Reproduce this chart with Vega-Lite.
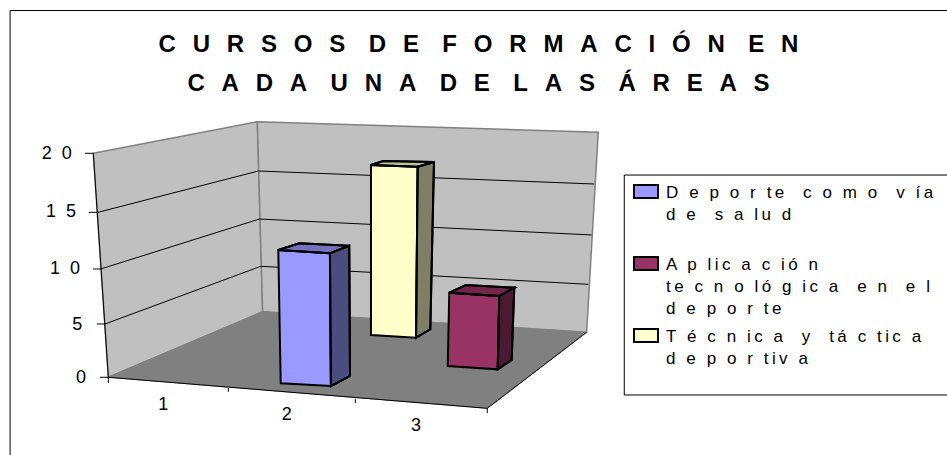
{
"$schema":"https://vega.github.io/schema/vega-lite/v6.json",
"width":947,"height":455,"padding":0,"autosize":{"type":"none"},
"background":"white",
"config":{"view":{"stroke":null},"font":"Liberation Sans"},
"title":{"text":["C\u2002\u2009U\u2002\u2009R\u2002\u2009S\u2002\u2009O\u2002\u2009S\u2002\u2009\u00a0D\u2002\u2009E\u2002\u2009\u00a0F\u2002\u2009O\u2002\u2009R\u2002\u2009M\u2002\u2009A\u2002\u2009C\u2002\u2009I\u2002\u2009Ó\u2002\u2009N\u2002\u2009\u00a0E\u2002\u2009N","C\u2002\u2009A\u2002\u2009D\u2002\u2009A\u2002\u2009\u00a0U\u2002\u2009N\u2002\u2009A\u2002\u2009\u00a0D\u2002\u2009E\u2002\u2009\u00a0L\u2002\u2009A\u2002\u2009S\u2002\u2009\u00a0Á\u2002\u2009R\u2002\u2009E\u2002\u2009A\u2002\u2009S"],"font":"Liberation Sans","fontSize":24,"fontWeight":"bold","color":"black","anchor":"middle","frame":"group","lineHeight":39,"baseline":"top","offset":-96,"dx":5},
"datasets":{
"planos":[
{"plano":"pared izquierda","orden":1,"x":0.739,"y":20},{"plano":"pared izquierda","orden":2,"x":2.038,"y":22.82},{"plano":"pared izquierda","orden":3,"x":2.08,"y":5.86},{"plano":"pared izquierda","orden":4,"x":0.858,"y":0},
{"plano":"pared fondo","orden":1,"x":2.038,"y":22.82},{"plano":"pared fondo","orden":2,"x":4.738,"y":21.88},{"plano":"pared fondo","orden":3,"x":4.646,"y":4.02},{"plano":"pared fondo","orden":4,"x":2.08,"y":5.86},
{"plano":"suelo","orden":1,"x":0.858,"y":0},{"plano":"suelo","orden":2,"x":2.08,"y":5.86},{"plano":"suelo","orden":3,"x":4.646,"y":4.02},{"plano":"suelo","orden":4,"x":3.859,"y":-2.77}
],
"lineas":[
{"linea":"g15","orden":1,"x":0.776,"y":14.73},{"linea":"g15","orden":2,"x":2.046,"y":18.42},{"linea":"g15","orden":3,"x":4.704,"y":17.26},
{"linea":"g10","orden":1,"x":0.797,"y":9.67},{"linea":"g10","orden":2,"x":2.054,"y":14.13},{"linea":"g10","orden":3,"x":4.686,"y":12.71},
{"linea":"g5","orden":1,"x":0.832,"y":4.76},{"linea":"g5","orden":2,"x":2.065,"y":9.91},{"linea":"g5","orden":3,"x":4.659,"y":8.3},
{"linea":"eje y","orden":1,"x":0.739,"y":20},{"linea":"eje y","orden":2,"x":0.858,"y":0},
{"linea":"eje x","orden":1,"x":0.858,"y":0},{"linea":"eje x","orden":2,"x":3.859,"y":-2.77},{"linea":"eje x","orden":3,"x":4.646,"y":4.02},
{"linea":"t20","orden":1,"x":0.673,"y":20},{"linea":"t20","orden":2,"x":0.739,"y":20},
{"linea":"t15","orden":1,"x":0.705,"y":14.73},{"linea":"t15","orden":2,"x":0.776,"y":14.73},
{"linea":"t10","orden":1,"x":0.737,"y":9.67},{"linea":"t10","orden":2,"x":0.797,"y":9.67},
{"linea":"t5","orden":1,"x":0.768,"y":4.76},{"linea":"t5","orden":2,"x":0.832,"y":4.76},
{"linea":"t0","orden":1,"x":0.792,"y":0},{"linea":"t0","orden":2,"x":0.858,"y":0},
{"linea":"x0","orden":1,"x":0.858,"y":0},{"linea":"x0","orden":2,"x":0.858,"y":-0.5},
{"linea":"x1","orden":1,"x":1.808,"y":-0.96},{"linea":"x1","orden":2,"x":1.808,"y":-1.3},
{"linea":"x2","orden":1,"x":2.814,"y":-1.95},{"linea":"x2","orden":2,"x":2.814,"y":-2.3},
{"linea":"x3","orden":1,"x":3.859,"y":-2.77},{"linea":"x3","orden":2,"x":3.859,"y":-3.2},
{"linea":"marco","orden":1,"x":0.08,"y":-6.94},{"linea":"marco","orden":2,"x":0.08,"y":32.75},{"linea":"marco","orden":3,"x":7.5,"y":32.75},
{"linea":"caja","orden":1,"x":7.5,"y":-1.58},{"linea":"caja","orden":2,"x":4.944,"y":-1.58},{"linea":"caja","orden":3,"x":4.944,"y":18.06},{"linea":"caja","orden":4,"x":7.5,"y":18.06}
],
"caras":[
{"serie":"Deporte como vía de salud","cara":"frente","orden":1,"x":2.204,"y":11.37},{"serie":"Deporte como vía de salud","cara":"frente","orden":2,"x":2.613,"y":11.07},{"serie":"Deporte como vía de salud","cara":"frente","orden":3,"x":2.621,"y":-0.78},{"serie":"Deporte como vía de salud","cara":"frente","orden":4,"x":2.223,"y":-0.54},
{"serie":"Deporte como vía de salud","cara":"superior","orden":1,"x":2.204,"y":11.37},{"serie":"Deporte como vía de salud","cara":"superior","orden":2,"x":2.37,"y":11.96},{"serie":"Deporte como vía de salud","cara":"superior","orden":3,"x":2.766,"y":11.75},{"serie":"Deporte como vía de salud","cara":"superior","orden":4,"x":2.613,"y":11.07},
{"serie":"Deporte como vía de salud","cara":"lateral","orden":1,"x":2.613,"y":11.07},{"serie":"Deporte como vía de salud","cara":"lateral","orden":2,"x":2.766,"y":11.75},{"serie":"Deporte como vía de salud","cara":"lateral","orden":3,"x":2.772,"y":0.12},{"serie":"Deporte como vía de salud","cara":"lateral","orden":4,"x":2.621,"y":-0.78},
{"serie":"Técnica y táctica deportiva","cara":"frente","orden":1,"x":2.938,"y":18.96},{"serie":"Técnica y táctica deportiva","cara":"frente","orden":2,"x":3.308,"y":18.8},{"serie":"Técnica y táctica deportiva","cara":"frente","orden":3,"x":3.295,"y":3.54},{"serie":"Técnica y táctica deportiva","cara":"frente","orden":4,"x":2.938,"y":3.78},
{"serie":"Técnica y táctica deportiva","cara":"superior","orden":1,"x":2.938,"y":18.96},{"serie":"Técnica y táctica deportiva","cara":"superior","orden":2,"x":3.036,"y":19.31},{"serie":"Técnica y táctica deportiva","cara":"superior","orden":3,"x":3.437,"y":19.22},{"serie":"Técnica y táctica deportiva","cara":"superior","orden":4,"x":3.308,"y":18.8},
{"serie":"Técnica y táctica deportiva","cara":"lateral","orden":1,"x":3.308,"y":18.8},{"serie":"Técnica y táctica deportiva","cara":"lateral","orden":2,"x":3.437,"y":19.22},{"serie":"Técnica y táctica deportiva","cara":"lateral","orden":3,"x":3.408,"y":4.29},{"serie":"Técnica y táctica deportiva","cara":"lateral","orden":4,"x":3.295,"y":3.54},
{"serie":"Aplicación tecnológica en el deporte","cara":"frente","orden":1,"x":3.558,"y":7.55},{"serie":"Aplicación tecnológica en el deporte","cara":"frente","orden":2,"x":3.954,"y":7.26},{"serie":"Aplicación tecnológica en el deporte","cara":"frente","orden":3,"x":3.942,"y":0.71},{"serie":"Aplicación tecnológica en el deporte","cara":"frente","orden":4,"x":3.546,"y":1.01},
{"serie":"Aplicación tecnológica en el deporte","cara":"superior","orden":1,"x":3.558,"y":7.55},{"serie":"Aplicación tecnológica en el deporte","cara":"superior","orden":2,"x":3.69,"y":8.24},{"serie":"Aplicación tecnológica en el deporte","cara":"superior","orden":3,"x":4.073,"y":8},{"serie":"Aplicación tecnológica en el deporte","cara":"superior","orden":4,"x":3.954,"y":7.26},
{"serie":"Aplicación tecnológica en el deporte","cara":"lateral","orden":1,"x":3.954,"y":7.26},{"serie":"Aplicación tecnológica en el deporte","cara":"lateral","orden":2,"x":4.073,"y":8},{"serie":"Aplicación tecnológica en el deporte","cara":"lateral","orden":3,"x":4.052,"y":1.54},{"serie":"Aplicación tecnológica en el deporte","cara":"lateral","orden":4,"x":3.942,"y":0.71}
],
"etiquetas":[
{"texto":"2 \u00a00","x":0.568,"y":19.94,"eje":"y"},{"texto":"1 \u00a05","x":0.602,"y":14.76,"eje":"y"},{"texto":"1 \u00a00","x":0.634,"y":9.67,"eje":"y"},{"texto":"5","x":0.652,"y":4.67,"eje":"y"},{"texto":"0","x":0.681,"y":-0.06,"eje":"y"},
{"texto":"1","x":1.293,"y":-2.47,"eje":"x"},{"texto":"2","x":2.271,"y":-3.37,"eje":"x"},{"texto":"3","x":3.294,"y":-4.35,"eje":"x"}
]
},
"encoding":{
"x":{"field":"x","type":"quantitative","scale":{"domain":[0,7.5],"nice":false,"zero":false},"axis":null},
"y":{"field":"y","type":"quantitative","scale":{"domain":[-6.94,33.69],"nice":false,"zero":false},"axis":null}
},
"layer":[
{"data":{"name":"planos"},"transform":[{"filter":"datum.plano!='suelo'"}],"mark":{"type":"line","interpolate":"linear-closed","fill":"#C0C0C0","stroke":"#808080","strokeWidth":1.5},"encoding":{"detail":{"field":"plano"},"order":{"field":"orden"}}},
{"data":{"name":"planos"},"transform":[{"filter":"datum.plano=='suelo'"}],"mark":{"type":"line","interpolate":"linear-closed","fill":"#808080","stroke":"#808080","strokeWidth":1},"encoding":{"detail":{"field":"plano"},"order":{"field":"orden"}}},
{"data":{"name":"lineas"},"mark":{"type":"line","stroke":"black","strokeWidth":1},"encoding":{"detail":{"field":"linea"},"order":{"field":"orden"}}},
{"data":{"name":"caras"},"mark":{"type":"line","interpolate":"linear-closed","stroke":"black","strokeWidth":2},"encoding":{"detail":[{"field":"serie"},{"field":"cara"}],"order":{"field":"orden"},
"fill":{"field":"serie","type":"nominal","scale":{"domain":["Deporte como vía de salud","Aplicación tecnológica en el deporte","Técnica y táctica deportiva"],"range":["#9999FF","#993366","#FFFFCC"]},
"legend":{"orient":"none","legendX":624,"legendY":175,"title":null,"padding":9,"symbolType":"M-1,-1H1V0.08H-1Z","symbolSize":576,"symbolStrokeColor":"black","symbolStrokeWidth":2,"symbolBaseline":"top","labelBaseline":"top","labelFont":"Liberation Sans","labelFontSize":17,"labelColor":"black","labelOffset":7,"labelLimit":400,"rowPadding":8,"encoding":{"labels":{"lineHeight":{"value":22},"dy":{"value":-12}}},
"labelExpr":"datum.value=='Deporte como vía de salud'?['D \u00a0\u200ae \u00a0\u200ap \u00a0\u200ao \u00a0\u200ar \u00a0\u200at\u2009e \u00a0 \u00a0c \u00a0\u200ao \u00a0\u200am \u00a0\u200ao \u00a0 \u00a0v \u00a0\u200aí\u2009a','d \u00a0\u200ae \u00a0 \u00a0s \u00a0\u200aa \u00a0\u200al\u2009u \u00a0\u200ad','']:datum.value=='Aplicación tecnológica en el deporte'?['A \u00a0\u200ap \u00a0\u200al\u2009i\u2009c \u00a0\u200aa \u00a0\u200ac \u00a0\u200ai\u2009ó \u00a0\u200an','t\u2009e \u00a0\u200ac \u00a0\u200an \u00a0\u200ao \u00a0\u200al\u2009ó \u00a0\u200ag \u00a0\u200ai\u2009c \u00a0\u200aa \u00a0 \u00a0e \u00a0\u200an \u00a0 \u00a0e \u00a0\u200al','d \u00a0\u200ae \u00a0\u200ap \u00a0\u200ao \u00a0\u200ar \u00a0\u200at\u2009e']:['T \u00a0\u200aé \u00a0\u200ac \u00a0\u200an \u00a0\u200ai\u2009c \u00a0\u200aa \u00a0 \u00a0y \u00a0 \u00a0t\u2009á \u00a0\u200ac \u00a0\u200at\u2009i\u2009c \u00a0\u200aa','d \u00a0\u200ae \u00a0\u200ap \u00a0\u200ao \u00a0\u200ar \u00a0\u200at\u2009i\u2009v \u00a0\u200aa']"}}}},
{"data":{"name":"caras"},"transform":[{"filter":"datum.cara!='frente'"}],"mark":{"type":"line","interpolate":"linear-closed","fill":"black","stroke":"black","strokeWidth":2},"encoding":{"detail":[{"field":"serie"},{"field":"cara"}],"order":{"field":"orden"},"fillOpacity":{"field":"cara","type":"nominal","scale":{"domain":["superior","lateral"],"range":[0.25,0.5]},"legend":null}}},
{"data":{"name":"etiquetas"},"transform":[{"filter":"datum.eje=='y'"}],"mark":{"type":"text","align":"right","baseline":"middle","font":"Liberation Sans","fontSize":18,"color":"black"},"encoding":{"text":{"field":"texto"}}},
{"data":{"name":"etiquetas"},"transform":[{"filter":"datum.eje=='x'"}],"mark":{"type":"text","align":"center","baseline":"middle","font":"Liberation Sans","fontSize":18,"color":"black"},"encoding":{"text":{"field":"texto"}}}
]
}
